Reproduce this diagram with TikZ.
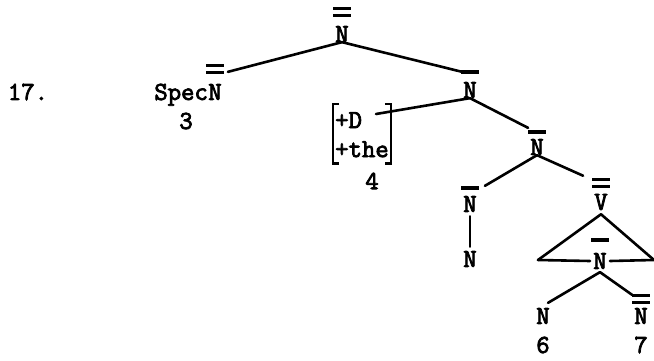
\documentclass[tikz,border=0pt]{standalone}
\usepackage{fontspec}
\newfontfamily\tw{Latin Modern Mono}[FakeBold=3]
\usetikzlibrary{calc}
\begin{document}
\begin{tikzpicture}[x=1pt,y=-1pt,
  lbl/.style={inner sep=0pt, font=\tw\fontsize{26}{29}\selectfont},
  branch/.style={line width=2.6pt, line cap=round},
  sbarline/.style={line width=3.6pt},
  dbarline/.style={line width=3pt},
  brk/.style={line width=2.2pt}]
\useasboundingbox (0,0) rectangle (654,360);

% labels
\node[lbl] (ex) at (28,92) {17.};
\node[lbl] (topN) at (342,34) {N};
\node[lbl] (specN) at (215,92) {N};
\node[lbl, anchor=base east] (spec) at (specN.base west) {Spec};
\node[lbl] (n3) at (186,121) {3};
\node[lbl] (na) at (470,90) {N};
\node[lbl, align=left, anchor=north west] (feat) at (335,112) {+D\\+the};
\node[lbl] (n4) at (372,181) {4};
\node[lbl] (nb) at (537,147) {N};
\node[lbl] (nc) at (470,204) {N};
\node[lbl] (nbare) at (470,259) {N};
\node[lbl] (vv) at (601,202) {V};
\node[lbl, inner xsep=3pt] (nd) at (600,261) {N};
\node[lbl] (n6n) at (543,316) {N};
\node[lbl] (n6) at (543,345) {6};
\node[lbl] (n7n) at (641,316) {N};
\node[lbl] (n7) at (641,345) {7};
\coordinate (triL) at (538,260);
\coordinate (triR) at (654,260);
\coordinate (dEnd) at (376,114);

% single bars
\foreach \n/\o in {na/10,nb/7,nc/8,nd/13}
  \draw[sbarline] ([xshift=-9pt,yshift=\o pt]\n.north) -- ++(18pt,0);
% double bars
\foreach \n/\o in {topN/10,specN/11,vv/7,n7n/5}{
  \draw[dbarline] ([xshift=-9pt,yshift=\o pt]\n.north) -- ++(18pt,0);
  \draw[dbarline] ([xshift=-9pt,yshift=\o pt+7pt]\n.north) -- ++(18pt,0);
}

% feature bracket
\draw[brk] ([xshift=4pt,yshift=8pt]feat.north west) -| ([xshift=-2pt,yshift=-6pt]feat.south west) -- ++(6pt,0);
\draw[brk] ([xshift=-4pt,yshift=8pt]feat.north east) -| ([xshift=2pt,yshift=-6pt]feat.south east) -- ++(-6pt,0);

% branches
\draw[branch] (topN.south) -- ([xshift=6pt,yshift=12pt]specN.north east);
\draw[branch] (topN.south) -- ([xshift=-1pt,yshift=10pt]na.north west);
\draw[branch] (na.south) -- (dEnd);
\draw[branch] (na.south) -- ([xshift=-2pt,yshift=11pt]nb.north west);
\draw[branch] (nb.south) -- ([xshift=8pt,yshift=10pt]nc.north east);
\draw[branch] (nb.south) -- ([xshift=-11pt,yshift=18pt]vv.north west);
\draw[branch, line width=2pt, shorten <=4pt, shorten >=4pt] (nc.south) -- (nbare.north);
\draw[branch] ([yshift=-4pt]vv.south) -- (triL);
\draw[branch] ([yshift=-4pt]vv.south) -- (triR);
\draw[branch] (triL) -- (nd.west);
\draw[branch] (nd.east) -- (triR);
\draw[branch] ([yshift=-3pt]nd.south) -- ([xshift=5pt,yshift=5pt]n6n.north);
\draw[branch] ([yshift=-3pt]nd.south) -- ([xshift=-2pt,yshift=13pt]n7n.north west);
\end{tikzpicture}
\end{document}
